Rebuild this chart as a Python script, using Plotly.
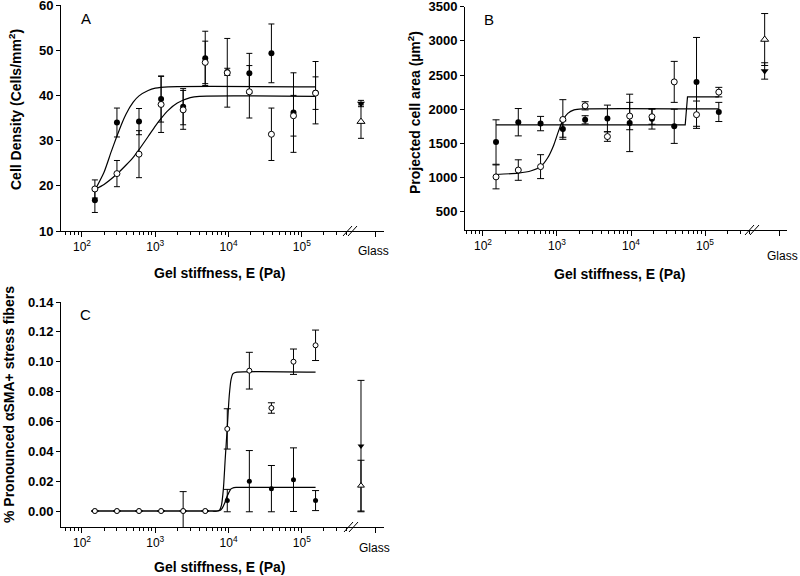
import plotly.graph_objects as go

W, H = 800, 576
FONT = "Liberation Sans, Arial, sans-serif"

# ---------------- data ----------------
E = [150, 300, 600, 1200, 2400, 4800, 9600, 19200, 38400, 76800, 153600]
GLASS_X = 640000

# Panel A: cell density (cells/mm^2)
a_fill = [16.8, 34.0, 34.2, 39.2, 37.5, 48.2, 45.2, 44.9, 49.3, 36.2, 40.6]
a_fill_err = [2.7, 3.2, 2.9, 5.1, 4.0, 6.0, 0.8, 4.4, 6.5, 8.8, 6.9]
a_open = [19.3, 22.7, 27.0, 38.0, 36.8, 47.3, 45.0, 40.8, 31.4, 35.5, 40.5]
a_open_err = [2.0, 2.9, 5.2, 6.2, 4.3, 4.7, 7.6, 5.8, 5.8, 4.5, 3.6]
a_glass_fill, a_glass_fill_err = [38.2], [0.7]
a_glass_open, a_glass_open_err = [34.2], [3.7]
a_fit_fill_x = [150, 200, 250, 300, 350, 400, 500, 600, 800, 1000, 1500, 153600]
a_fit_fill_y = [19.0, 23.0, 27.5, 31.0, 33.8, 35.9, 38.5, 39.9, 41.1, 41.6, 41.9, 41.9]
a_fit_open_x = [150, 200, 300, 400, 500, 600, 800, 1000, 1200, 1500, 2000, 3000, 4000, 153600]
a_fit_open_y = [19.2, 20.3, 22.6, 24.6, 26.3, 28.0, 30.9, 33.2, 34.9, 36.7, 38.3, 39.5, 39.8, 39.8]

# Panel B: projected cell area (um^2)
b_fill = [1520, 1810, 1790, 1710, 1845, 1865, 1800, 1860, 1750, 2400, 1960]
b_fill_err = [325, 200, 105, 120, 60, 195, 420, 150, 250, 650, 140]
b_open = [1010, 1110, 1160, 1850, 2050, 1600, 1900, 1890, 2400, 1920, 2250]
b_open_err = [175, 150, 175, 290, 60, 70, 200, 110, 300, 200, 70]
b_glass_fill, b_glass_fill_err = [2560], [120]
b_glass_open, b_glass_open_err = [3020], [380]
b_fit_fill_x = [150, 54000, 58000, 153600]
b_fit_fill_y = [1770, 1770, 2180, 2180]
b_fit_open_x = [150, 300, 450, 600, 750, 900, 1050, 1200, 1400, 1700, 2200, 153600]
b_fit_open_y = [1045, 1065, 1100, 1160, 1290, 1470, 1680, 1840, 1940, 1990, 2005, 2005]

# Panel C: fraction with pronounced aSMA+ stress fibers
c_fill = [0, 0, 0, 0, 0, 0, 0.007, 0.020, 0.015, 0.021, 0.007]
c_fill_err = [0, 0, 0, 0, 0, 0, 0.0075, 0.0205, 0.0155, 0.0213, 0.0067]
c_open = [0, 0, 0, 0, 0, 0, 0.055, 0.094, 0.069, 0.100, 0.111]
c_open_err = [0, 0, 0, 0, 0.013, 0, 0.0135, 0.0123, 0.0035, 0.0085, 0.0102]
c_glass_fill, c_glass_fill_err = [0.0435], [0.0440]
c_glass_open, c_glass_open_err = [0.017], [0.017]
c_fit_open_x = [150, 3000, 6000, 7000, 7500, 8000, 8500, 9000, 9600, 10200, 10800, 11500, 13000, 153600]
c_fit_open_y = [0, 0, 0, 0, 0.0005, 0.004, 0.015, 0.035, 0.056, 0.077, 0.088, 0.092, 0.093, 0.093]
c_fit_fill_x = [150, 3000, 6000, 7000, 7600, 8200, 8800, 9400, 10000, 10800, 11800, 13000, 153600]
c_fit_fill_y = [0, 0, 0, 0, 0.0003, 0.002, 0.005, 0.009, 0.012, 0.0148, 0.0157, 0.0158, 0.0158]

# tick labels
MAJOR = [1e2, 1e3, 1e4, 1e5, 1e6]
MAJOR_TEXT = ["10<sup>2</sup>", "10<sup>3</sup>", "10<sup>4</sup>", "10<sup>5</sup>", ""]
MINOR = [m * 10 ** e for e in range(1, 6) for m in range(2, 10) if 50 <= m * 10 ** e <= 4e5]


# ---------------- helpers ----------------
def px(x):
    return x / W


def py(y):
    return 1 - y / H


fig = go.Figure()


def add_panel(xa, ya, fits, fill, fill_err, opn, opn_err, gfill, gfill_err, gopen, gopen_err, msize, cap):
    for fx, fy, shape in fits:
        fig.add_trace(go.Scatter(x=fx, y=fy, mode="lines", xaxis=xa, yaxis=ya,
                                 line=dict(color="black", width=1.2, shape=shape, smoothing=0.6),
                                 showlegend=False, hoverinfo="skip"))
    fig.add_trace(go.Scatter(x=E, y=fill, mode="markers", xaxis=xa, yaxis=ya,
                             marker=dict(symbol="circle", size=msize, color="black"),
                             error_y=dict(type="data", array=fill_err, color="black", thickness=1, width=cap),
                             showlegend=False))
    fig.add_trace(go.Scatter(x=E, y=opn, mode="markers", xaxis=xa, yaxis=ya,
                             marker=dict(symbol="circle", size=msize, color="white",
                                         line=dict(color="black", width=1)),
                             error_y=dict(type="data", array=opn_err, color="black", thickness=1, width=cap),
                             showlegend=False))
    fig.add_trace(go.Scatter(x=[GLASS_X], y=gfill, mode="markers", xaxis=xa, yaxis=ya,
                             marker=dict(symbol="triangle-down", size=msize + 1, color="black"),
                             error_y=dict(type="data", array=gfill_err, color="black", thickness=1, width=cap),
                             showlegend=False))
    fig.add_trace(go.Scatter(x=[GLASS_X], y=gopen, mode="markers", xaxis=xa, yaxis=ya,
                             marker=dict(symbol="triangle-up", size=msize + 1, color="white",
                                         line=dict(color="black", width=1)),
                             error_y=dict(type="data", array=gopen_err, color="black", thickness=1, width=cap),
                             showlegend=False))


add_panel("x", "y", [(a_fit_fill_x, a_fit_fill_y, "spline"), (a_fit_open_x, a_fit_open_y, "spline")],
          a_fill, a_fill_err, a_open, a_open_err,
          a_glass_fill, a_glass_fill_err, a_glass_open, a_glass_open_err, 6, 3)
add_panel("x2", "y2", [(b_fit_fill_x, b_fit_fill_y, "linear"), (b_fit_open_x, b_fit_open_y, "spline")],
          b_fill, b_fill_err, b_open, b_open_err,
          b_glass_fill, b_glass_fill_err, b_glass_open, b_glass_open_err, 6, 3.5)
add_panel("x3", "y3", [(c_fit_fill_x, c_fit_fill_y, "spline"), (c_fit_open_x, c_fit_open_y, "spline")],
          c_fill, c_fill_err, c_open, c_open_err,
          c_glass_fill, c_glass_fill_err, c_glass_open, c_glass_open_err, 5, 3.5)


def xaxis_cfg(x0, x1, rng, anchor):
    return dict(type="log", domain=[px(x0), px(x1)], range=rng, anchor=anchor, automargin=False,
                showline=True, linecolor="black", linewidth=1,
                ticks="outside", ticklen=5, tickwidth=1, tickcolor="black",
                tickmode="array", tickvals=MAJOR, ticktext=MAJOR_TEXT,
                tickfont=dict(family=FONT, size=12, color="black"),
                ticklabeloverflow="allow",
                minor=dict(ticks="outside", ticklen=3, tickwidth=1, tickcolor="black", tickvals=MINOR),
                showgrid=False, zeroline=False)


def yaxis_cfg(ytop, ybot, rng, dtick, anchor, fmt=None):
    d = dict(domain=[py(ybot), py(ytop)], range=rng, anchor=anchor, automargin=False,
             showline=True, linecolor="black", linewidth=1,
             ticks="outside", ticklen=4, tickwidth=1, tickcolor="black",
             tickmode="linear", tick0=0, dtick=dtick,
             tickfont=dict(family=FONT, size=13, color="black", weight="bold"),
             ticklabeloverflow="allow",
             showgrid=False, zeroline=False)
    if fmt:
        d["tickformat"] = fmt
    return d


fig.update_layout(
    width=W, height=H,
    margin=dict(l=0, r=0, t=0, b=0, autoexpand=False),
    paper_bgcolor="white", plot_bgcolor="white",
    showlegend=False,
    xaxis=xaxis_cfg(61, 384, [1.714, 6.12], "y"),
    yaxis=yaxis_cfg(5, 231, [10, 60], 10, "x"),
    xaxis2=xaxis_cfg(465, 787, [1.757, 6.108], "y2"),
    yaxis2=yaxis_cfg(6.7, 230, [233, 3500], 500, "x2"),
    xaxis3=xaxis_cfg(61, 384, [1.714, 6.12], "y3"),
    yaxis3=yaxis_cfg(302, 527, [-0.0107, 0.14], 0.02, "x3", ".2f"),
)

anns = []


def text(x, y, s, size=14, bold=True, angle=0):
    anns.append(dict(x=px(x), y=py(y), xref="paper", yref="paper", text=s, showarrow=False,
                     textangle=angle, xanchor="center", yanchor="middle",
                     font=dict(family=FONT, size=size, color="black", weight="bold" if bold else "normal")))


# axis titles
text(15, 110, "Cell Density (Cells/mm<sup>2</sup>)", angle=-90)
text(219, 273, "Gel stiffness, E (Pa)")
text(414, 112, "Projected cell area (µm<sup>2</sup>)", angle=-90)
text(619, 274, "Gel stiffness, E (Pa)")
text(9, 405, "% Pronounced αSMA+ stress fibers", angle=-90)
text(219, 567, "Gel stiffness, E (Pa)")
# panel letters
text(85.5, 18.5, "A", size=15, bold=False)
text(489, 20, "B", size=15, bold=False)
text(85.5, 314, "C", size=15, bold=False)
# glass labels
text(373, 251, "Glass", size=12, bold=False)
text(782, 256, "Glass", size=12, bold=False)
text(374, 548, "Glass", size=12, bold=False)
fig.update_layout(annotations=anns)

# axis break marks "//"
shapes = []
for bx, by in [(350, 231), (752, 230), (351, 527)]:
    for off in (-2.5, 2.5):
        shapes.append(dict(type="line", xref="paper", yref="paper",
                           x0=px(bx + off - 4.5), y0=py(by + 5), x1=px(bx + off + 4.5), y1=py(by - 5),
                           line=dict(color="black", width=1)))
fig.update_layout(shapes=shapes)

fig.write_html("out.html", config={"displayModeBar": False},
               post_script="document.body.style.margin='0';document.body.style.overflow='hidden';")
